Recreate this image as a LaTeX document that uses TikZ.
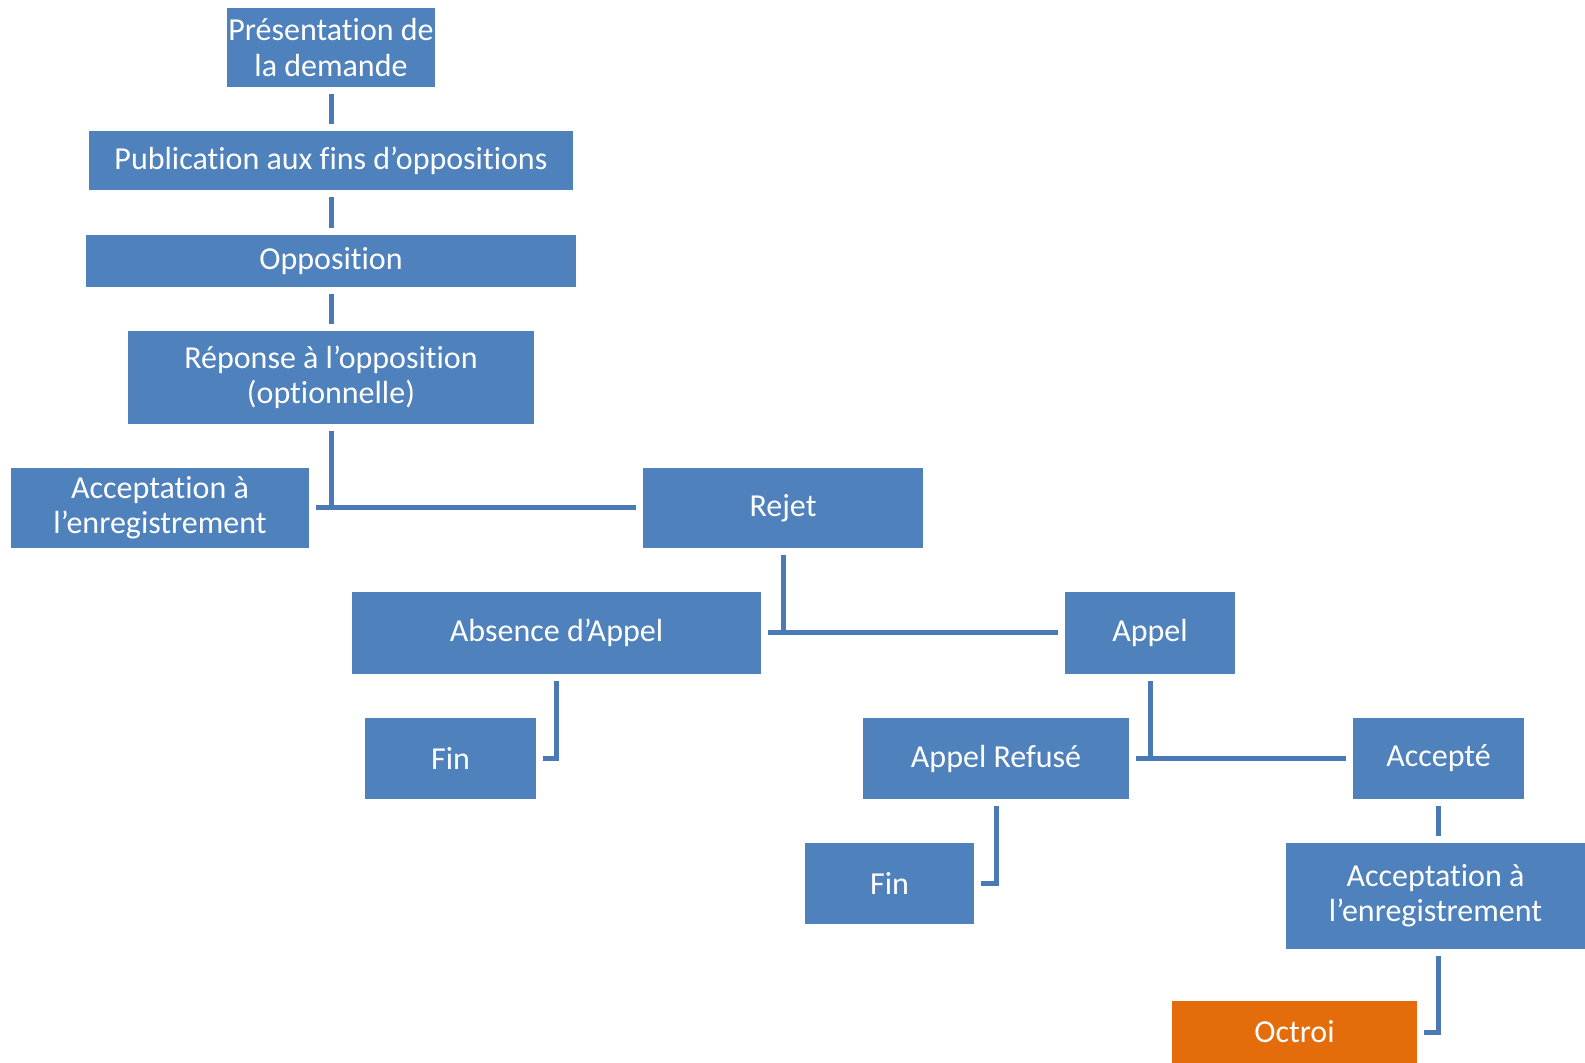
\documentclass[tikz,border=0pt]{standalone}
\usepackage{fontspec}
\setmainfont[Ligatures=CommonOff]{Carlito}
\usepackage{xcolor}
\usepackage{tikz}
\usetikzlibrary{calc,positioning}

\definecolor{boxblue}{HTML}{4F81BD}
\definecolor{lineblue}{HTML}{4A7AB5}
\definecolor{octroiorange}{HTML}{E46C0A}

\tikzset{
  box/.style={fill=boxblue, text=white, inner sep=0pt, align=center,
    font=\fontsize{16}{17.7}\selectfont},
  octroibox/.style={box, fill=octroiorange},
  link/.style={draw=lineblue, line width=2.5pt, shorten <=3.5pt, shorten >=3.5pt}
}

\begin{document}
\begin{tikzpicture}[x=0.5pt,y=-0.5pt]

\useasboundingbox (0,0) rectangle (1585,1063);

%Main column
\node[box, minimum width=104pt, minimum height=39.5pt] (pres) at (331,47.5) {Présentation de\\la demande};
\node[box, minimum width=242pt, minimum height=29.5pt] (pub) at (331,160.5) {Publication aux fins d’oppositions};
\node[box, minimum width=245pt, minimum height=26pt] (opp) at (331,261) {Opposition};
\node[box, minimum width=203pt, minimum height=46.5pt] (rep) at (331,377.5) {Réponse à l’opposition\\(optionnelle)};

%First decision
\node[box, minimum width=149pt, minimum height=40pt] (accL) at (160,508) {Acceptation à\\l’enregistrement};
\node[box, minimum width=140pt, minimum height=40pt] (rejet) at (783,508) {Rejet};

%Appeal
\node[box, minimum width=204.5pt, minimum height=41pt] (absence) at (556.5,633) {Absence d’Appel};
\node[box, minimum width=85pt, minimum height=41pt] (appel) at (1150,633) {Appel};
\node[box, minimum width=85.5pt, minimum height=40.5pt] (finA) at (450.5,758.5) {Fin};
\node[box, minimum width=133pt, minimum height=40.5pt] (refuse) at (996,758.5) {Appel Refusé};
\node[box, minimum width=85.5pt, minimum height=40.5pt] (accepte) at (1438.5,758.5) {Accepté};
\node[box, minimum width=84.5pt, minimum height=40.5pt] (finB) at (889.5,883.5) {Fin};
\node[box, minimum width=149.5pt, minimum height=53pt] (accR) at (1435.5,896) {Acceptation à\\l’enregistrement};
\node[octroibox, minimum width=122.5pt, minimum height=31pt] (octroi) at (1294.5,1032) {Octroi};

%Links
\draw[link] (pres.south) -- (pub.north);
\draw[link] (pub.south) -- (opp.north);
\draw[link] (opp.south) -- (rep.north);
\draw[link, shorten >=0pt] (rep.south) -- (rep.south |- accL.east);
\draw[link] (accL.east) -- (rejet.west);
\draw[link, shorten >=0pt] (rejet.south) -- (rejet.south |- absence.east);
\draw[link] (absence.east) -- (appel.west);
\draw[link] (absence.south) |- (finA.east);
\draw[link, shorten >=0pt] (appel.south) -- (appel.south |- refuse.east);
\draw[link] (refuse.east) -- (accepte.west);
\draw[link] (refuse.south) |- (finB.east);
\draw[link] (accepte.south) -- (accepte.south |- accR.north);
\draw[link] (accepte.south |- accR.south) |- (octroi.east);

\end{tikzpicture}
\end{document}
